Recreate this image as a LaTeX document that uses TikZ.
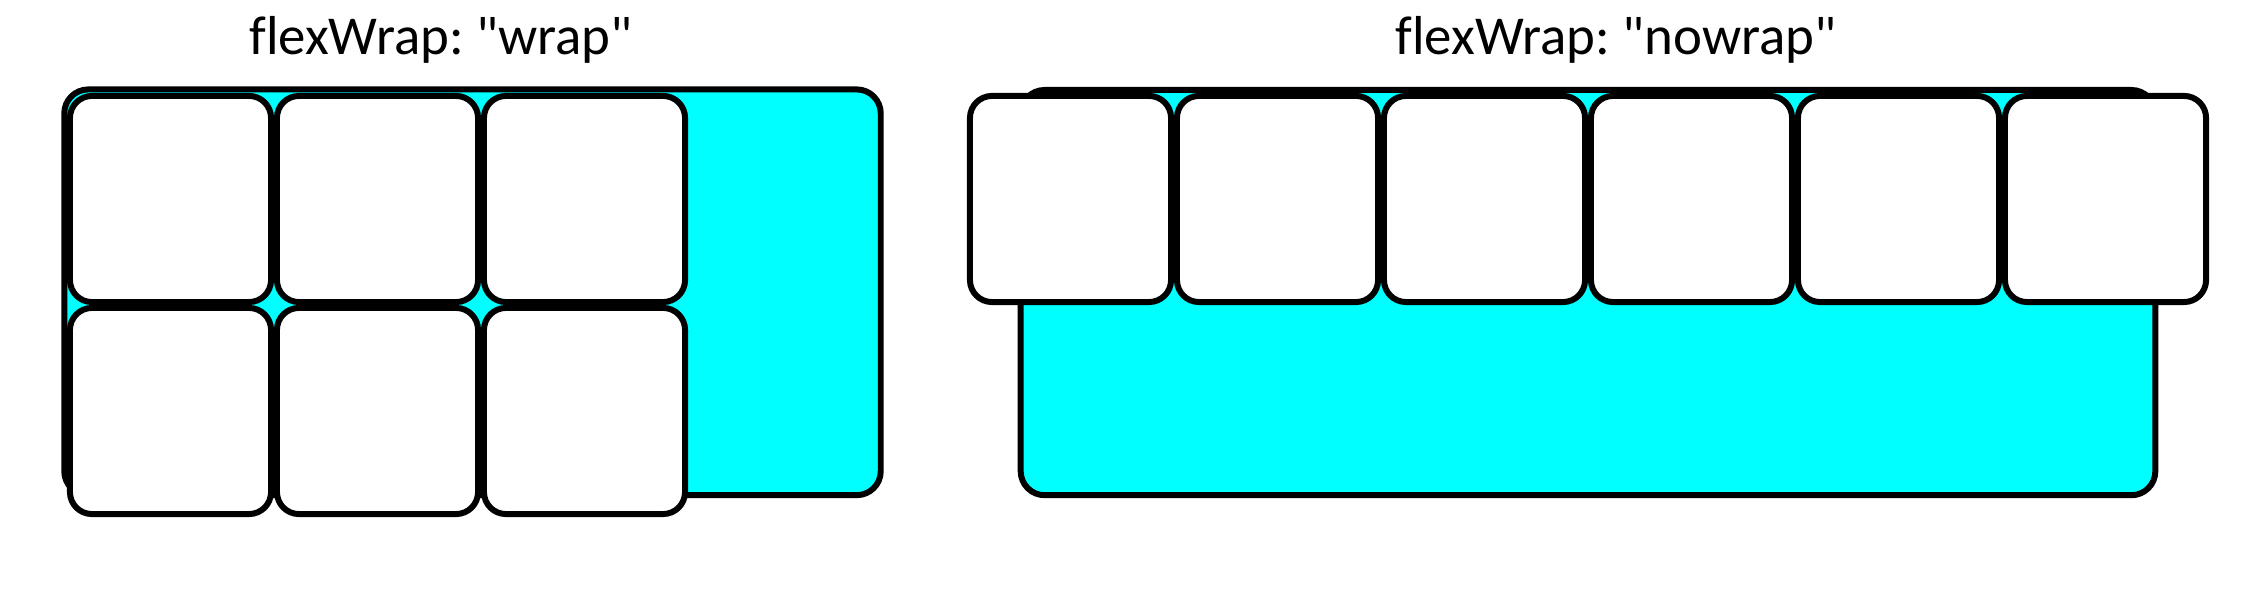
\documentclass[tikz,border=0pt]{standalone}
\usepackage{fontspec}
\setmainfont{Carlito}[Ligatures=NoCommon]
\definecolor{flexcyan}{HTML}{00FFFF}
\frenchspacing
\begin{document}
\begin{tikzpicture}[x=0.01cm, y=-0.01cm,
        container/.style={rectangle, draw=black, fill=flexcyan, rounded corners=0.24cm, line width=1.7pt, inner sep=0pt},
        flexitem/.style={rectangle, draw=black, fill=white, rounded corners=0.22cm, line width=1.7pt, inner sep=0pt, minimum width=2.01cm, minimum height=2.06cm},
        title/.style={anchor=base, inner sep=0pt, font=\fontsize{15.6}{18}\selectfont}
    ]
    \useasboundingbox (0,0) rectangle (2246,616);

    % titles
    \node[title] (wraptitle) at (441,55) {flexWrap: \textquotedbl wrap\textquotedbl};
    \node[title] (nowraptitle) at (1616,55) {flexWrap: \textquotedbl nowrap\textquotedbl};

    % wrap: container and items in two rows
    \node[container, minimum width=8.16cm, minimum height=4.055cm] (wrapbox) at (472.5,292.3) {};
    \node[flexitem] (w1) at (170.5,199) {};
    \node[flexitem] (w2) at (377.5,199) {};
    \node[flexitem] (w3) at (584.5,199) {};
    \node[flexitem] (w4) at (170.5,411) {};
    \node[flexitem] (w5) at (377.5,411) {};
    \node[flexitem] (w6) at (584.5,411) {};

    % nowrap: container and items in one row
    \node[container, minimum width=11.34cm, minimum height=4.05cm] (nowrapbox) at (1588,292.6) {};
    \node[flexitem] (n1) at (1070.5,199) {};
    \node[flexitem] (n2) at (1277.5,199) {};
    \node[flexitem] (n3) at (1484.5,199) {};
    \node[flexitem] (n4) at (1691.5,199) {};
    \node[flexitem] (n5) at (1898.5,199) {};
    \node[flexitem] (n6) at (2105.5,199) {};
\end{tikzpicture}
\end{document}
